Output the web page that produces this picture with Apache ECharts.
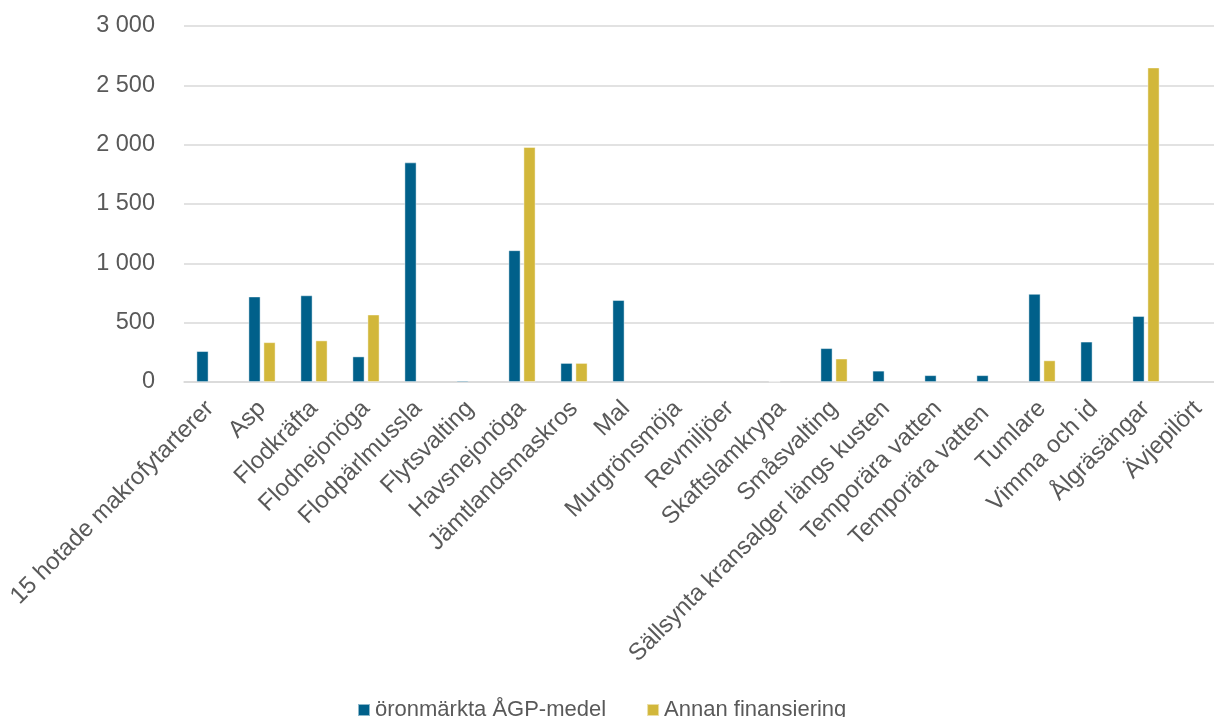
<!DOCTYPE html>
<html>
<head>
<meta charset="utf-8">
<script src="https://cdn.jsdelivr.net/npm/echarts@6/dist/echarts.min.js"></script>
<style>
  html, body { margin: 0; padding: 0; background: #ffffff; }
  #chart { width: 1214px; height: 717px; }
</style>
</head>
<body>
<div id="chart"></div>
<script>
// Species / habitat categories
const categories = [
  '15 hotade makrofytarterer', 'Asp', 'Flodkräfta', 'Flodnejonöga', 'Flodpärlmussla',
  'Flytsvalting', 'Havsnejonöga', 'Jämtlandsmaskros', 'Mal', 'Murgrönsmöja',
  'Revmiljöer', 'Skaftslamkrypa', 'Småsvalting', 'Sällsynta kransalger längs kusten',
  'Temporära vatten', 'Temporära vatten ', 'Tumlare', 'Vimma och id', 'Ålgräsängar', 'Ävjepilört'
];

// Earmarked ÅGP funds
const agpFunds = [260, 720, 730, 215, 1850, 12, 1110, 160, 690, null, null, 5, 285, 95, 57, 57, 742, 340, 555, null];

// Other financing
const otherFunds = [null, 335, 350, 568, null, null, 1980, 160, null, null, null, null, 197, null, null, null, 182, null, 2650, null];

const seriesNames = ['öronmärkta ÅGP-medel', 'Annan finansiering'];

const yTicks = { min: 0, max: 3000, interval: 500 };

const textColor = '#595959';
const font = 'Liberation Sans, Arial, sans-serif';

const chart = echarts.init(document.getElementById('chart'), null, { renderer: 'canvas' });

chart.setOption({
  animation: false,
  backgroundColor: '#ffffff',
  textStyle: { fontFamily: font },
  // plot area runs past the right edge of the canvas; the last category is partly cut off
  grid: { left: 184, width: 1040, top: 26, bottom: 335, containLabel: false, outerBoundsMode: 'none' },
  legend: {
    data: seriesNames,
    left: 352,
    top: 694,
    itemWidth: 12,
    itemHeight: 12,
    itemGap: 40,
    icon: 'rect',
    textStyle: { color: textColor, fontSize: 22, fontFamily: font }
  },
  xAxis: {
    type: 'category',
    data: categories,
    boundaryGap: true,
    axisLine: { show: true, lineStyle: { color: '#d9d9d9', width: 1.5 } },
    axisTick: { show: false },
    axisLabel: {
      interval: 0,
      rotate: 45,
      margin: 23,
      color: textColor,
      fontSize: 24,
      fontFamily: font
    }
  },
  yAxis: {
    type: 'value',
    min: yTicks.min,
    max: yTicks.max,
    interval: yTicks.interval,
    axisLine: { show: false },
    axisTick: { show: false },
    splitLine: { lineStyle: { color: '#d9d9d9', width: 1.5 } },
    axisLabel: {
      margin: 29,
      color: textColor,
      fontSize: 23.5,
      fontFamily: font,
      formatter: v => String(v).replace(/\B(?=(\d{3})+(?!\d))/g, ' ')
    }
  },
  series: [
    {
      name: seriesNames[0],
      type: 'bar',
      data: agpFunds,
      barWidth: 12,
      barGap: '25%',
      itemStyle: { color: '#00608a', borderColor: 'rgba(255,255,255,0.55)', borderWidth: 0.8 }
    },
    {
      name: seriesNames[1],
      type: 'bar',
      data: otherFunds,
      barWidth: 12,
      barGap: '25%',
      itemStyle: { color: '#d2b73a', borderColor: 'rgba(255,255,255,0.55)', borderWidth: 0.8 }
    }
  ]
});
</script>
</body>
</html>
